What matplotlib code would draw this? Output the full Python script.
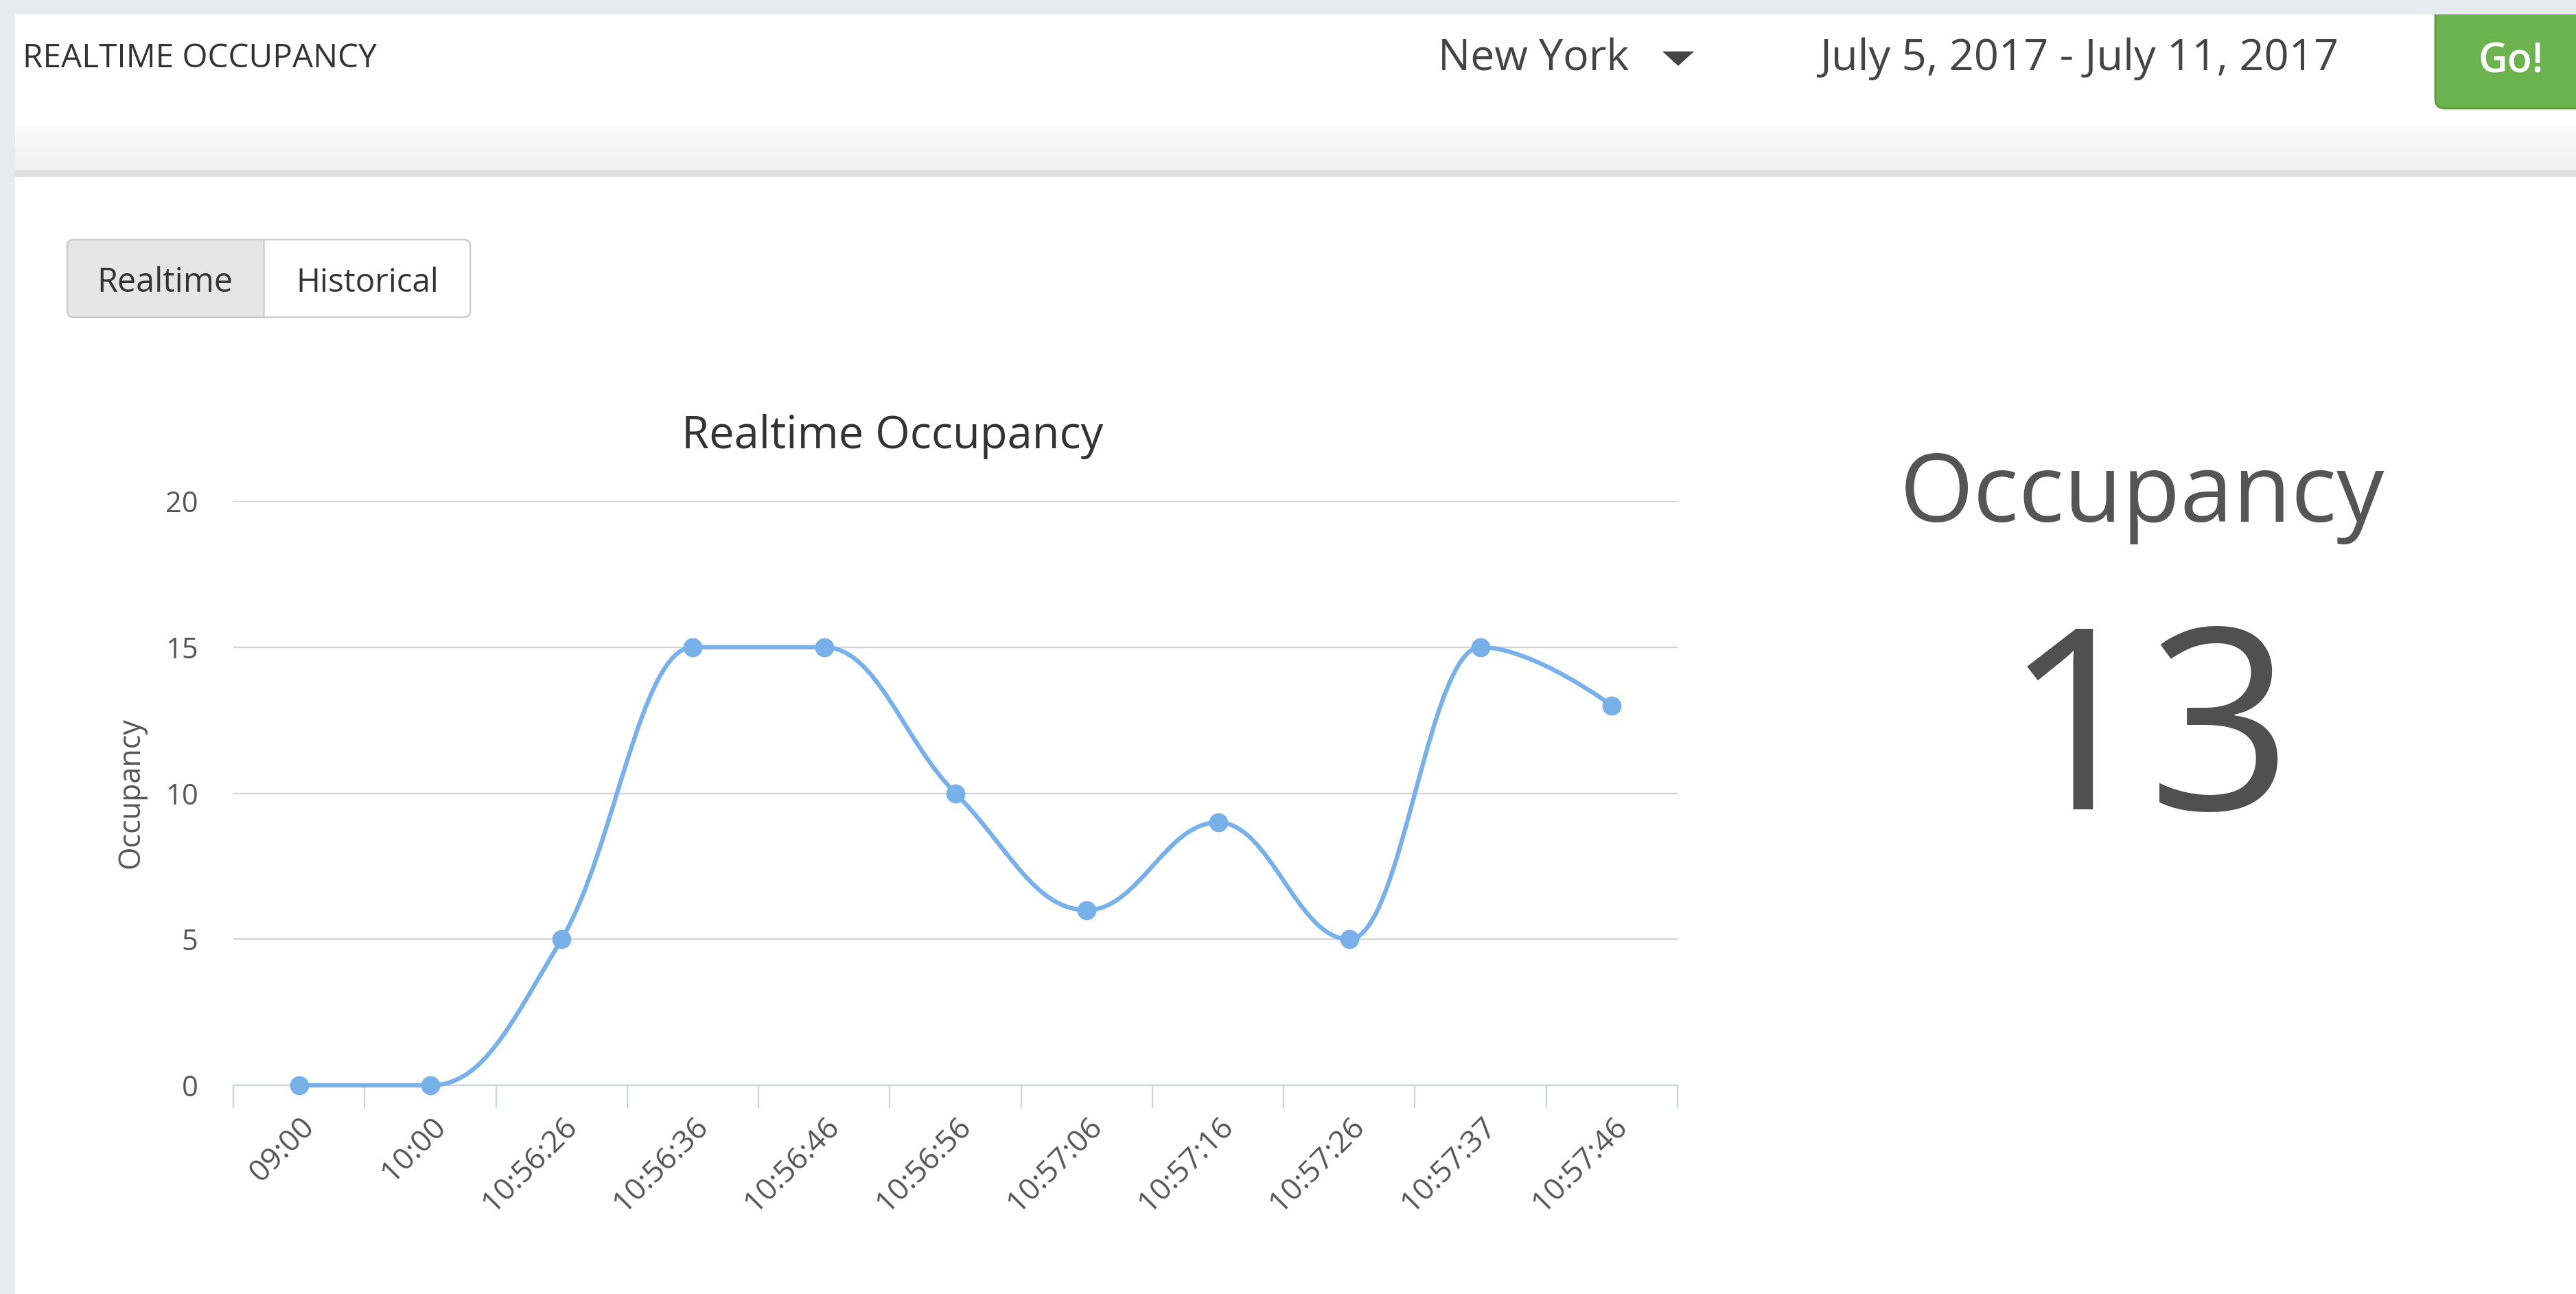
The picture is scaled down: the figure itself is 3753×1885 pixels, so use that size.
import numpy as np
import matplotlib
matplotlib.use("Agg")
import matplotlib.pyplot as plt
from matplotlib.path import Path
from matplotlib.patches import PathPatch, Rectangle, FancyBboxPatch, Polygon
from matplotlib import transforms

# ---------------- data ----------------
categories = ["09:00", "10:00", "10:56:26", "10:56:36", "10:56:46", "10:56:56",
              "10:57:06", "10:57:16", "10:57:26", "10:57:37", "10:57:46"]
occupancy = [0, 0, 5, 15, 15, 10, 6, 9, 5, 15, 13]
y_ticks = [0, 5, 10, 15, 20]
current_occupancy = 13
chart_title = "Realtime Occupancy"
y_title = "Occupancy"
page_title = "REALTIME OCCUPANCY"
location = "New York"
date_range = "July 5, 2017 - July 11, 2017"
go_label = "Go!"
toggle_labels = ["Realtime", "Historical"]
big_label = "Occupancy"

plt.rcParams['font.family'] = ['Open Sans', 'DejaVu Sans']

W, H = 3753, 1885
fig = plt.figure(figsize=(W / 100, H / 100), dpi=100)
fig.patch.set_facecolor('#e6ebf0')
renderer = fig.canvas.get_renderer()


def fit(t, width):
    bb = t.get_window_extent(renderer)
    t.set_fontsize(t.get_fontsize() * width / bb.width)
    return t


# ---------------- page background (pixel coords) ----------------
bg = fig.add_axes([0, 0, 1, 1])
bg.axis('off')
bg.add_patch(Rectangle((22, 21), W, H, fc='white', ec='none', zorder=0))
grad = np.linspace(0, 1, 64)[:, None]
c_top = np.array([0.985, 0.985, 0.985])
c_bot = np.array([0.937, 0.937, 0.937])
img = c_top[None, None, :] * (1 - grad[:, :, None]) + c_bot[None, None, :] * grad[:, :, None]
bg.imshow(img, extent=(22, W, 248, 182), origin='upper', aspect='auto', zorder=1)
bg.add_patch(Rectangle((22, 248), W, 10, fc='#e0e0e0', ec='none', zorder=1))

# Go button
bg.add_patch(FancyBboxPatch((3548, 0), 400, 158, boxstyle='round,pad=0,rounding_size=14',
                            fc='#6cb24f', ec='#5c9c42', lw=2, zorder=2))
# outer border strips on top
bg.add_patch(Rectangle((0, 0), W, 21, fc='#e6ebf0', ec='none', zorder=3))
bg.add_patch(Rectangle((0, 0), 22, H, fc='#e6ebf0', ec='none', zorder=3))

# header texts
t = bg.text(33, 98, page_title, ha='left', va='baseline', fontsize=30, color='#333333', zorder=4)
fit(t, 517)
t = bg.text(2095, 102, location, ha='left', va='baseline', fontsize=40, color='#444444', zorder=4)
fit(t, 278)
bg.add_patch(Polygon([(2422, 75), (2468, 75), (2445, 96)], closed=True, fc='#444444', ec='none', zorder=4))
t = bg.text(2651, 102, date_range, ha='left', va='baseline', fontsize=40, color='#444444', zorder=4)
fit(t, 756)
t = bg.text(3610, 105, go_label, ha='left', va='baseline', fontsize=40, color='white',
            fontweight='semibold', zorder=4)
fit(t, 95)

# toggle buttons
bg.add_patch(FancyBboxPatch((98, 349), 587, 113, boxstyle='round,pad=0,rounding_size=9',
                            fc='#e6e6e6', ec='none', zorder=2))
bg.add_patch(FancyBboxPatch((384, 349), 301, 113, boxstyle='round,pad=0,rounding_size=9',
                            fc='white', ec='none', zorder=2))
bg.add_patch(Rectangle((384, 349), 20, 113, fc='white', ec='none', zorder=2))
bg.plot([384, 384], [349, 462], color='#cccccc', lw=1.8, zorder=3)
bg.add_patch(FancyBboxPatch((98, 349), 587, 113, boxstyle='round,pad=0,rounding_size=9',
                            fc='none', ec='#cccccc', lw=1.8, zorder=3))
t = bg.text(240, 425, toggle_labels[0], ha='center', va='baseline', fontsize=30, color='#333333', zorder=4)
fit(t, 198)
t = bg.text(535, 425, toggle_labels[1], ha='center', va='baseline', fontsize=30, color='#333333', zorder=4)
fit(t, 208)

# chart title
t = bg.text(1300, 653, chart_title, ha='center', va='baseline', fontsize=40, color='#333333', zorder=4)
fit(t, 613)

# big occupancy panel
t = bg.text(3121, 760, big_label, ha='center', va='baseline', fontsize=100, color='#555555', zorder=4)
fit(t, 707)
bg.text(3130, 1179, str(current_occupancy), ha='center', va='baseline', fontsize=265,
        color='#505050', zorder=4)

bg.set_xlim(0, W)
bg.set_ylim(H, 0)

# ---------------- chart ----------------
L, R, T, B = 340, 2444, 730, 1581
ax = fig.add_axes([L / W, 1 - B / H, (R - L) / W, (B - T) / H])
ax.set_facecolor('none')
n = len(categories)
xs = np.arange(n, dtype=float)
ys = np.array(occupancy, dtype=float)


def highcharts_spline(xv, yv, smoothing=1.5):
    m = len(xv)
    denom = smoothing + 1
    left = [(xv[i], yv[i]) for i in range(m)]
    right = [(xv[i], yv[i]) for i in range(m)]
    for i in range(1, m - 1):
        px, py = xv[i], yv[i]
        lx, ly = xv[i - 1], yv[i - 1]
        nx, ny = xv[i + 1], yv[i + 1]
        lcx = (smoothing * px + lx) / denom
        lcy = (smoothing * py + ly) / denom
        rcx = (smoothing * px + nx) / denom
        rcy = (smoothing * py + ny) / denom
        corr = 0.0
        if rcx != lcx:
            corr = (rcy - lcy) * (rcx - px) / (rcx - lcx) + py - rcy
        lcy += corr
        rcy += corr
        if lcy > ly and lcy > py:
            lcy = max(ly, py)
            rcy = 2 * py - lcy
        elif lcy < ly and lcy < py:
            lcy = min(ly, py)
            rcy = 2 * py - lcy
        if rcy > ny and rcy > py:
            rcy = max(ny, py)
            lcy = 2 * py - rcy
        elif rcy < ny and rcy < py:
            rcy = min(ny, py)
            lcy = 2 * py - rcy
        left[i] = (lcx, lcy)
        right[i] = (rcx, rcy)
    verts = [(xv[0], yv[0])]
    codes = [Path.MOVETO]
    for i in range(1, m):
        verts += [right[i - 1], left[i], (xv[i], yv[i])]
        codes += [Path.CURVE4] * 3
    return Path(verts, codes)


line_color = '#78b0ea'
ax.add_patch(PathPatch(highcharts_spline(xs, ys), fill=False, edgecolor=line_color, lw=4.6,
                       capstyle='round', joinstyle='round', clip_on=False, zorder=3))
ax.plot(xs, ys, 'o', ms=19, color=line_color, mec=line_color, clip_on=False, zorder=4)

ax.set_xlim(-0.5, n - 0.5)
ax.set_ylim(0, 20)
ax.set_xticks(np.arange(-0.5, n, 1.0))
ax.set_xticklabels([])
ax.tick_params(axis='x', length=24, width=1.7, color='#cfd3d8', direction='out')
ax.set_yticks(y_ticks)
ax.set_yticklabels([str(v) for v in y_ticks], fontsize=30, color='#555555')
ax.tick_params(axis='y', length=0, pad=37)
ax.grid(axis='y', color='#d4d4d4', lw=1.7)
ax.set_axisbelow(True)
for s in ['top', 'right', 'left']:
    ax.spines[s].set_visible(False)
ax.spines['bottom'].set_color('#cfd3d8')
ax.spines['bottom'].set_linewidth(1.7)

lab_trans = transforms.offset_copy(ax.get_xaxis_transform(), fig=fig, x=16, y=-54, units='dots')
for i, lab in enumerate(categories):
    ax.text(i, 0, lab, transform=lab_trans, rotation=45, rotation_mode='anchor',
            ha='right', va='center', fontsize=32, color='#555555')

ax.text(-0.0708, 0.5, y_title, transform=ax.transAxes, rotation=90, ha='center', va='center',
        fontsize=31, color='#555555')

fig.savefig('out.png', dpi=100, facecolor=fig.get_facecolor())
